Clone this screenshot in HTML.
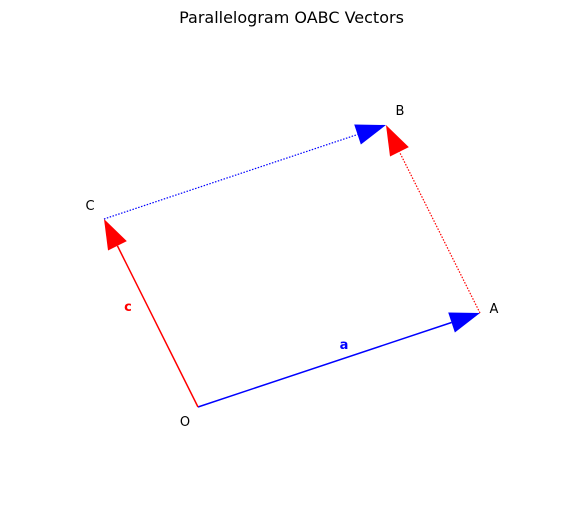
<!DOCTYPE html>
<html><head><meta charset="utf-8"><style>
body{margin:0;background:#fff;}
svg{display:block;font-family:"Liberation Sans","DejaVu Sans",sans-serif;}
</style></head><body>
<svg id="chart" width="583" height="511" viewBox="0 0 583 511">
<text x="291.5" y="23" text-anchor="middle" font-size="16" font-family="DejaVu Sans, sans-serif">Parallelogram OABC Vectors</text>
<g id="marks"></g>
</svg>
<script>
const pointNames = ["O","A","B","C"];
const pointX = [0,3,2,-1];
const pointY = [0,1,3,2];
const vecFrom = ["O","O","A","C"];
const vecTo = ["A","C","B","B"];
const vecColor = ["blue","red","red","blue"];
const vecDotted = [false,false,true,true];
const vecLabel = ["a","c","",""];

const ox=198, oy=407, k=94;
const sx=x=>ox+x*k, sy=y=>oy-y*k;
const NS="http://www.w3.org/2000/svg";
const g=document.getElementById('marks');
function P(n){const i=pointNames.indexOf(n);return [sx(pointX[i]),sy(pointY[i])];}
function mk(t,a){const e=document.createElementNS(NS,t);for(const q in a)e.setAttribute(q,a[q]);g.appendChild(e);return e;}
const HL=30, HW=10.5;
for(let i=0;i<vecFrom.length;i++){
  const [x1,y1]=P(vecFrom[i]), [x2,y2]=P(vecTo[i]);
  const dx=x2-x1, dy=y2-y1, L=Math.hypot(dx,dy), ux=dx/L, uy=dy/L;
  const bx=x2-ux*HL, by=y2-uy*HL;
  const ln=mk('line',{x1:x1,y1:y1,x2:bx,y2:by,stroke:vecColor[i],'stroke-width':vecDotted[i]?1.2:1.5});
  if(vecDotted[i]) ln.setAttribute('stroke-dasharray','1.5,1.5');
  
  
  const hd=mk('polygon',{points:`${x2},${y2} ${bx-uy*HW},${by+ux*HW} ${bx+uy*HW},${by-ux*HW}`,fill:vecColor[i]});
  
  
  if(vecLabel[i]){
    const mx=(x1+x2)/2, my=(y1+y2)/2;
    const off = i===0 ? [5,-16] : [-23,-7];
    const t=mk('text',{x:mx+off[0],y:my+off[1]+5,fill:vecColor[i],'font-weight':'bold','font-size':13,'text-anchor':'middle','font-family':'DejaVu Sans, sans-serif'});
    t.textContent=vecLabel[i];
    
    
  }
}
const lblOff={O:[-13,14],A:[14,-5],B:[14,-15],C:[-14,-14]};
for(const n of pointNames){
  const [x,y]=P(n);
  const t=mk('text',{x:x+lblOff[n][0],y:y+lblOff[n][1]+5,'font-size':13,'text-anchor':'middle','font-family':'DejaVu Sans, sans-serif'});
  t.textContent=n;
  
  
}
</script>
</body></html>
